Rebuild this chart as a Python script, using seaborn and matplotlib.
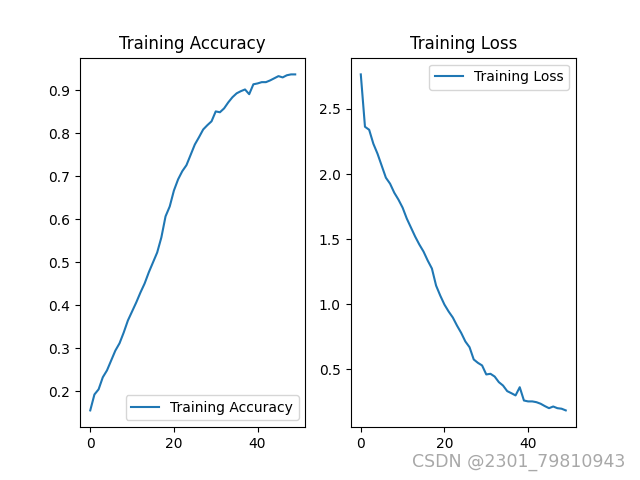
import numpy as np
import matplotlib
matplotlib.use("Agg")
import matplotlib.pyplot as plt
import seaborn as sns

epochs = list(range(50))

acc = [0.156, 0.193, 0.205, 0.233, 0.249, 0.272, 0.295, 0.312, 0.337, 0.365,
       0.386, 0.407, 0.430, 0.451, 0.477, 0.500, 0.523, 0.558, 0.607, 0.630,
       0.667, 0.693, 0.712, 0.726, 0.750, 0.774, 0.791, 0.809, 0.819, 0.828,
       0.851, 0.849, 0.858, 0.872, 0.884, 0.893, 0.898, 0.902, 0.891, 0.914,
       0.916, 0.919, 0.919, 0.923, 0.928, 0.933, 0.930, 0.935, 0.937, 0.937]

loss = [2.765, 2.363, 2.340, 2.233, 2.156, 2.064, 1.972, 1.926, 1.857, 1.804,
        1.742, 1.658, 1.589, 1.520, 1.459, 1.405, 1.336, 1.275, 1.144, 1.067,
        0.998, 0.945, 0.899, 0.837, 0.781, 0.715, 0.671, 0.577, 0.551, 0.531,
        0.462, 0.467, 0.446, 0.403, 0.377, 0.334, 0.318, 0.301, 0.364, 0.262,
        0.255, 0.255, 0.249, 0.237, 0.219, 0.203, 0.216, 0.203, 0.199, 0.186]

fig = plt.figure(figsize=(6.4, 4.8), dpi=100)

ax1 = plt.subplot(1, 2, 1)
sns.lineplot(x=epochs, y=acc, ax=ax1, label="Training Accuracy")
ax1.legend(loc="lower right")
ax1.set_title("Training Accuracy")

ax2 = plt.subplot(1, 2, 2)
sns.lineplot(x=epochs, y=loss, ax=ax2, label="Training Loss")
ax2.legend(loc="upper right")
ax2.set_title("Training Loss")

fig.text(0.977, 0.038, "CSDN @2301_79810943", ha="right", va="center",
         color="#a8a8a8", fontsize=12.5)

plt.savefig("out.png")
